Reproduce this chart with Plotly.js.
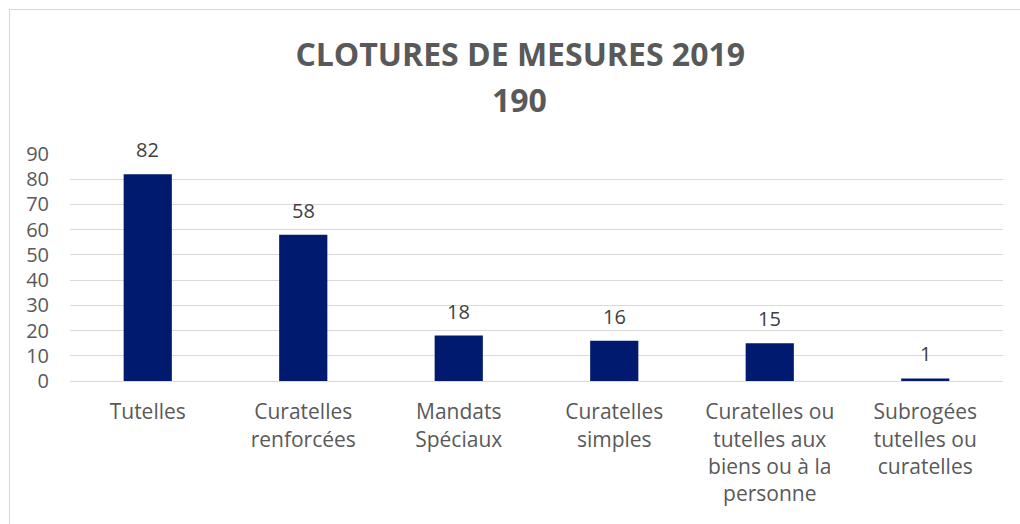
<!DOCTYPE html>
<html>
<head>
<meta charset="utf-8">
<script src="https://cdn.plot.ly/plotly-3.0.1.min.js"></script>
<style>
  body { margin: 0; background: #fff; }
  #wrap { position: relative; width: 1020px; height: 524px; overflow: hidden; }
  #plot { position: absolute; left: 0; top: 0; width: 1020px; height: 524px; }
  #frame { position: absolute; left: 9px; top: 9px; width: 1030px; height: 540px;
           border: 1px solid #d9d9d9; pointer-events: none; }
</style>
</head>
<body>
<div id="wrap">
  <div id="plot"></div>
  <div id="frame"></div>
</div>
<script>
// Clôtures de mesures 2019 (total 190)
var categories = [
    'Tutelles',
    'Curatelles<br>renforcées',
    'Mandats<br>Spéciaux',
    'Curatelles<br>simples',
    'Curatelles ou<br>tutelles aux<br>biens ou à la<br>personne',
    'Subrogées<br>tutelles ou<br>curatelles'
];
var values = [82, 58, 18, 16, 15, 1];
var yTicks = [0, 10, 20, 30, 40, 50, 60, 70, 80, 90];
var total = 190;

var data = [{
    x: categories,
    y: values,
    type: 'bar',
    width: 0.31,
    marker: { color: '#001a70' },
    hoverinfo: 'none'
}];

// value labels above the bars
var labels = categories.map(function (c, i) {
    return {
        x: c,
        y: values[i],
        text: String(values[i]),
        showarrow: false,
        yanchor: 'bottom',
        yshift: 9,
        font: { family: 'Open Sans', size: 20, color: '#404040' }
    };
});

// second title line (total)
labels.push({
    xref: 'paper',
    yref: 'paper',
    x: 0.482,
    y: 1.238,
    xanchor: 'center',
    yanchor: 'middle',
    text: '<b>' + total + '</b>',
    showarrow: false,
    font: { family: 'Open Sans', size: 32, color: '#595959' }
});

var layout = {
    width: 1020,
    height: 524,
    margin: { l: 70, r: 17, t: 154, b: 143 },
    paper_bgcolor: 'rgba(0,0,0,0)',
    plot_bgcolor: 'rgba(0,0,0,0)',
    showlegend: false,
    title: {
        text: '<b>CLOTURES DE MESURES 2019</b>',
        font: { family: 'Open Sans', size: 32, color: '#595959' },
        x: 0.51,
        xanchor: 'center',
        y: 1 - 55 / 524,
        yanchor: 'middle',
        yref: 'container'
    },
    annotations: labels,
    xaxis: {
        tickfont: { family: 'Open Sans', size: 21, color: '#595959' },
        showline: true,
        linecolor: '#d9d9d9',
        ticks: '',
        ticklabelstandoff: 12,
        fixedrange: true
    },
    yaxis: {
        range: [0, 90],
        tickvals: yTicks,
        ticktext: yTicks.map(String),
        tickfont: { family: 'Open Sans', size: 20, color: '#595959' },
        gridcolor: '#d9d9d9',
        zeroline: false,
        ticks: '',
        ticklabelstandoff: 20,
        fixedrange: true
    },
    bargap: 0.69
};

Plotly.newPlot('plot', data, layout, { displayModeBar: false, staticPlot: true });
</script>
</body>
</html>
